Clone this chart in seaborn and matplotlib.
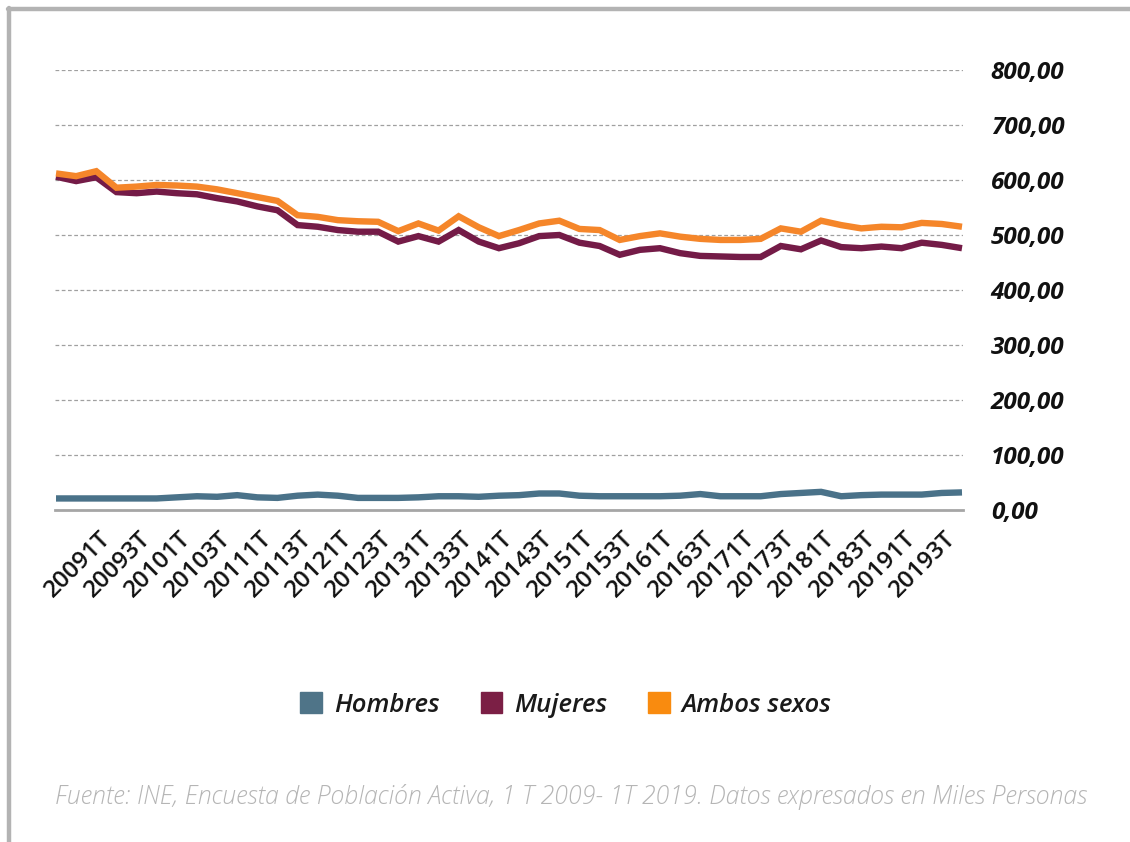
import numpy as np
import pandas as pd
import matplotlib
matplotlib.use("Agg")
import matplotlib.pyplot as plt
import seaborn as sns
from matplotlib.lines import Line2D
from matplotlib.patches import Patch
import matplotlib.transforms as mtransforms

# ---------------- data ----------------
years_quarters = [(2008, 3), (2008, 4)] + [(y, q) for y in range(2009, 2020) for q in range(1, 5)]
quarters = [f"{y}{q}T" for y, q in years_quarters]

hombres = [21, 21, 21, 21, 21, 21, 23, 25, 24, 27,
           23, 22, 26, 28, 26, 22, 22, 22, 23, 25,
           25, 24, 26, 27, 30, 30, 26, 25, 25, 25,
           25, 26, 29, 25, 25, 25, 29, 31, 33, 25,
           27, 28, 28, 28, 31, 32]

mujeres = [606, 598, 605, 578, 576, 579, 576, 574, 567, 561,
           552, 545, 518, 515, 509, 506, 506, 488, 498, 488,
           509, 488, 476, 485, 498, 500, 486, 480, 464, 473,
           476, 467, 462, 461, 460, 460, 480, 474, 490, 478,
           476, 479, 476, 486, 482, 476]

ambos = [612, 607, 616, 586, 588, 591, 590, 588, 583, 576,
         569, 562, 536, 533, 527, 525, 524, 507, 521, 508,
         534, 514, 498, 509, 521, 526, 511, 509, 491, 498,
         503, 497, 493, 491, 491, 493, 512, 506, 526, 518,
         512, 515, 514, 522, 520, 515]

series_names = ["Hombres", "Mujeres", "Ambos sexos"]
colors = ["#4a7289", "#741b47", "#f5862a"]
legend_colors = ["#4f7488", "#7b1f45", "#f98b0f"]
y_ticks = [0, 100, 200, 300, 400, 500, 600, 700, 800]
label_positions = list(range(2, 45, 2))
footer = "Fuente: INE, Encuesta de Población Activa, 1 T 2009- 1T 2019. Datos expresados en Miles Personas"

# ---------------- frame ----------------
idx = np.arange(len(quarters))
df = pd.DataFrame({
    "pos": np.concatenate([idx, idx, idx]),
    "valor": np.concatenate([hombres, mujeres, ambos]),
    "serie": np.repeat(series_names, len(quarters)),
})

sns.set_theme(style="white")
plt.rcParams["font.family"] = ["Open Sans", "DejaVu Sans"]

fig = plt.figure(figsize=(11.30, 8.42), dpi=100)
ax = fig.add_axes([55 / 1130, 1 - 510 / 842, (963 - 55) / 1130, (510 - 70) / 842])

sns.lineplot(data=df, x="pos", y="valor", hue="serie", hue_order=series_names,
             palette=colors, linewidth=4.6, ax=ax, legend=False,
             solid_joinstyle="miter", solid_capstyle="butt")

ax.set_xlim(idx[0] - 0.05, idx[-1] + 0.05)
ax.set_ylim(0, 800)
ax.set_xlabel("")
ax.set_ylabel("")

# grid
ax.set_yticks(y_ticks)
ax.yaxis.grid(True, linestyle=(0, (3, 2)), color="#a0a0a0", linewidth=0.9)
ax.xaxis.grid(False)
for s in ["left", "top", "right"]:
    ax.spines[s].set_visible(False)
ax.spines["bottom"].set_color("#a6a6a6")
ax.spines["bottom"].set_linewidth(2.0)
ax.set_axisbelow(True)

# y labels on right
ax.yaxis.tick_right()
ax.set_yticklabels([f"{v:.2f}".replace(".", ",") for v in y_ticks],
                   fontsize=17.5, fontweight="bold", fontstyle="italic", color="#111111")
ax.tick_params(axis="y", length=0, pad=20)
for lab in ax.get_yticklabels():
    lab.set_horizontalalignment("left")

# x labels
ax.set_xticks(label_positions)
ax.set_xticklabels([quarters[i] for i in label_positions], rotation=45,
                   ha="right", rotation_mode="anchor", fontsize=17.5,
                   fontweight="semibold", color="#111111")
ax.tick_params(axis="x", length=0, pad=12)
offset = mtransforms.ScaledTranslation(2 / 100, 0, fig.dpi_scale_trans)
for lab in ax.get_xticklabels():
    lab.set_transform(lab.get_transform() + offset)

# legend
handles = [Patch(facecolor=c, edgecolor=c) for c in legend_colors]
leg = fig.legend(handles, series_names, loc="center", bbox_to_anchor=(566 / 1130, 1 - 705 / 842),
                 ncol=3, frameon=False, handlelength=0.85, handleheight=0.85,
                 handletextpad=0.45, columnspacing=1.6,
                 prop={"size": 18.5, "style": "italic", "weight": "semibold"})
for t in leg.get_texts():
    t.set_color("#1a1a1a")

# footer
fig.text(55 / 1130, 1 - 797 / 842, footer, fontsize=17.95, style="italic",
         color="#b5b5b5", ha="left", va="center", fontweight="light")

# outer frame lines (left and top)
fig.add_artist(Line2D([9 / 1130, 9 / 1130], [0, 1 - 8 / 842], transform=fig.transFigure,
                      color="#b3b3b3", linewidth=3.2))
fig.add_artist(Line2D([7.5 / 1130, 1], [1 - 9 / 842, 1 - 9 / 842], transform=fig.transFigure,
                      color="#b3b3b3", linewidth=3.2))

fig.savefig("out.png", dpi=100)
